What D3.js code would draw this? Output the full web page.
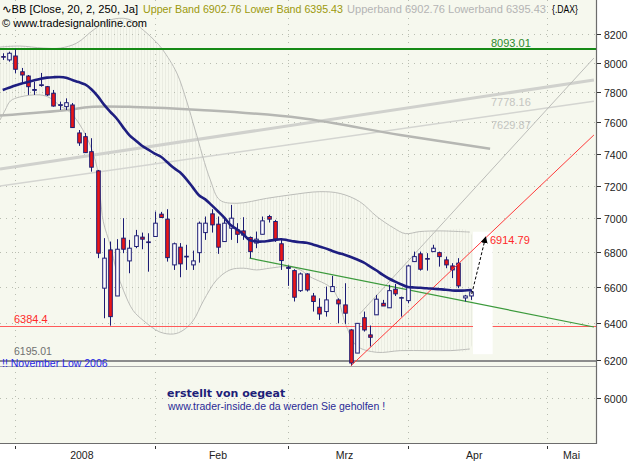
<!DOCTYPE html>
<html><head><meta charset="utf-8">
<script src="https://cdn.jsdelivr.net/npm/d3@7"></script>
<style>html,body{margin:0;padding:0;background:#fff;}svg{display:block}</style>
</head><body>
<svg id="c" width="638" height="463"></svg>
<script>
// ---------- DATA ----------
const dates = ["2007-12-27","2007-12-28","2008-01-02","2008-01-03","2008-01-04","2008-01-07","2008-01-08","2008-01-09","2008-01-10","2008-01-11",
"2008-01-14","2008-01-15","2008-01-16","2008-01-17","2008-01-18","2008-01-21","2008-01-22","2008-01-23","2008-01-24","2008-01-25",
"2008-01-28","2008-01-29","2008-01-30","2008-01-31","2008-02-01","2008-02-04","2008-02-05","2008-02-06","2008-02-07","2008-02-08",
"2008-02-11","2008-02-12","2008-02-13","2008-02-14","2008-02-15","2008-02-18","2008-02-19","2008-02-20","2008-02-21","2008-02-22",
"2008-02-25","2008-02-26","2008-02-27","2008-02-28","2008-02-29","2008-03-03","2008-03-04","2008-03-05","2008-03-06","2008-03-07",
"2008-03-10","2008-03-11","2008-03-12","2008-03-13","2008-03-14","2008-03-17","2008-03-18","2008-03-19","2008-03-20","2008-03-25",
"2008-03-26","2008-03-27","2008-03-28","2008-03-31","2008-04-01","2008-04-02","2008-04-03","2008-04-04","2008-04-07","2008-04-08",
"2008-04-09","2008-04-10","2008-04-11","2008-04-14","2008-04-15"];
const openV  = [8042,8019,8046,7938,7909,7812,7845,7837,7793,7712,7704,7715,7532,7508,7412,7291,6593,6813,6549,6882,
6749,6833,6888,6860,6892,7025,6995,6726,6829,6772,6726,6797,6915,7027,6965,6862,6941,6931,6925,6886,
6853,6905,7011,6981,6849,6712,6693,6579,6674,6549,6486,6462,6574,6527,6499,6361,6236,6428,6334,6444,
6508,6483,6587,6537,6523,6745,6790,6763,6803,6797,6755,6720,6736,6538,6549];
const highV  = [8065,8076,8093,7964,7916,7871,7930,7842,7815,7737,7759,7728,7551,7532,7498,7297,6882,6862,6876,7001,
6872,6931,6915,6911,7041,7039,7055,6856,6853,6843,6809,6981,7011,7055,7011,7001,7081,6971,7007,6892,
6921,7011,7021,6991,6882,6722,6701,6682,6678,6566,6536,6602,6663,6536,6621,6365,6397,6462,6385,6555,
6527,6612,6617,6545,6726,6803,6803,6794,6843,6803,6774,6736,6765,6555,6587];
const lowV   = [8019,8007,7927,7862,7782,7782,7837,7775,7704,7682,7682,7565,7449,7404,7286,6765,6425,6384.4,6549,6794,
6678,6823,6817,6687,6892,7003,6745,6697,6655,6697,6697,6739,6872,6915,6790,6862,6872,6853,6872,6765,
6823,6905,6975,6860,6697,6606,6518,6572,6574,6462,6416,6434,6574,6397,6394,6167.8,6236,6352,6271,6444,
6493,6483,6549,6434,6508,6745,6693,6693,6803,6716,6707,6650,6593,6518,6527];
const closeV = [8040,8065,7955,7916,7837,7818,7850,7782,7708,7717,7730,7567,7468,7406,7314,6794,6765,6434,6817,6817,
6823,6896,6876,6856,6971,7005,6768,6849,6732,6776,6749,6971,6971,6961,6829,6971,7001,6905,6900,6803,
6876,6985,6995,6876,6751,6706,6542,6674,6583,6518,6449,6527,6602,6505,6453,6183,6397,6361,6321,6531,
6493,6579,6561,6540,6720,6774,6701,6759,6823,6774,6726,6697,6606,6549,6572];
// moving average (navy line), one value per bar
const maV = [7815,7830,7845,7858,7869,7880,7891,7898,7901,7902,7897,7882,7868,7852,7820,7774,7717,7670,7626,7570,
7518,7484,7450,7425,7400,7380,7345,7310,7282,7240,7190,7140,7115,7080,7043,7005,6960,6935,6905,6870,
6863,6862,6866,6872,6876,6870,6863,6858,6855,6845,6833,6822,6808,6795,6785,6772,6757,6740,6718,6695,
6670,6648,6630,6614,6600,6597,6595,6593,6590,6587,6584,6580,6579,6580,6583];
// Bollinger bands, read at [bar position, price]
const upperBand = [[-0.43,8108],[2.7,8115],[6.4,8101],[9.1,8101],[11.7,8136],[14.3,8227],[16.9,8298],[19.8,8305],[22.2,8227],
[24.4,8136],[25.3,8088],[27.5,7930],[29.1,7735],[30.4,7551],[32.8,7234],[34.3,7111],[37,7091],[41.7,7121],[45.4,7142],
[50.1,7162],[53.3,7151],[56.4,7101],[59.1,7011],[61.7,6944],[63.6,6909],[65.9,6921],[69.1,6925],[73.8,6918]];
const lowerBand = [[-0.43,7616],[0.4,7682],[1.2,7741],[2.7,7768],[5.9,7782],[7.5,7761],[9.1,7708],[10.6,7669],[12.2,7584],
[13.8,7455],[14.9,7311],[15.4,7135],[15.9,6979],[17,6839],[18,6690],[19.1,6578],[20.6,6468],[22.2,6413],[24.8,6350],
[27,6339],[28.5,6359],[30.1,6413],[31.7,6521],[33.8,6640],[35.9,6697],[38,6707],[40.1,6697],[42.2,6707],[44.9,6716],
[47,6697],[48.5,6659],[52.2,6583],[54.3,6380],[55.9,6275],[59.1,6240],[62.8,6249],[67,6249],[70.7,6249],[73.8,6258]];
// long-term average (thick gray)
const longMA = [[-0.43,7645],[10.2,7682],[13.8,7702],[20.6,7702],[31.2,7682],[47,7629],[62.8,7519],[77,7430]];
// trend / level lines: [x1,p1,x2,p2]
const grayLineA = [-0.43,7303,93.4,7882];   // 7778.16
const grayLineB = [-0.43,7197,93.4,7740];   // 7629.87
const channelLine = [56.4,6449,93.4,8032];
const redTrend = [55,6167.8,93.4,7519];
const greenTrend = [39,6765,93.4,6377];
const levels = {resistance:8093.01, support:6384.4, novLow:6195.01, marchLow:6167.8};
const target = 6914.79;
const priceTicks = [6000,6200,6400,6600,6800,7000,7200,7400,7600,7800,8000,8200];
const monthTickIdx = [2,24,45,64,86];
const monthLabels = ["2008","Feb","Mrz","Apr","Mai"];

// ---------- SCALES ----------
const W = 596, H = 443;
const x = d3.scaleLinear().domain([-0.43, 93.73]).range([0, W]);
const y = d3.scaleLog().domain([5773, 8442]).range([H, 0]);

const svg = d3.select("#c");
svg.append("rect").attr("width",638).attr("height",463).attr("fill","#fff");
const defs = svg.append("defs");
defs.append("clipPath").attr("id","clip").append("rect").attr("width",W).attr("height",H);
const pat = defs.append("pattern").attr("id","hatch").attr("patternUnits","userSpaceOnUse")
  .attr("width",3).attr("height",10);
pat.append("rect").attr("x",0).attr("width",1).attr("height",10).attr("fill","#eaece2");

svg.append("rect").attr("width",W).attr("height",H).attr("fill","#f6f8ee");
const g = svg.append("g").attr("clip-path","url(#clip)");

// band fill
const lineC = d3.line().x(d=>x(d[0])).y(d=>y(d[1])).curve(d3.curveCatmullRom);
const bandPoly = upperBand.concat(lowerBand.slice().reverse());
g.append("path").attr("d", d3.line().x(d=>x(d[0])).y(d=>y(d[1])).curve(d3.curveCatmullRomClosed)(bandPoly))
  .attr("fill","url(#hatch)");

// grid
g.selectAll(".hg").data(priceTicks).join("line").attr("x1",0).attr("x2",W)
  .attr("y1",d=>Math.round(y(d))+0.5).attr("y2",d=>Math.round(y(d))+0.5)
  .attr("stroke","#b9bdb1").attr("stroke-dasharray","1,5");
g.selectAll(".vg").data(monthTickIdx).join("line").attr("y1",0).attr("y2",H)
  .attr("x1",d=>Math.round(x(d))+0.5).attr("x2",d=>Math.round(x(d))+0.5)
  .attr("stroke","#b9bdb1").attr("stroke-dasharray","1,5");

// gray lines
function seg(a){return [[a[0],a[1]],[a[2],a[3]]];}
const lineS = d3.line().x(d=>x(d[0])).y(d=>y(d[1]));
g.append("path").attr("d",lineS(seg(grayLineA))).attr("stroke","#d0d1cd").attr("stroke-width",3).attr("fill","none");
g.append("path").attr("d",lineS(seg(grayLineB))).attr("stroke","#d4d5d1").attr("stroke-width",1.6).attr("fill","none");
g.append("path").attr("d",lineC(longMA)).attr("stroke","#b6b7b3").attr("stroke-width",2.5).attr("fill","none");
g.append("path").attr("d",lineC(upperBand)).attr("stroke","#bcbdb9").attr("stroke-width",1).attr("fill","none");
g.append("path").attr("d",lineC(lowerBand)).attr("stroke","#bcbdb9").attr("stroke-width",1).attr("fill","none");
g.append("path").attr("d",lineS(seg(channelLine))).attr("stroke","#bcbdb9").attr("stroke-width",1).attr("fill","none");

// horizontal levels
function hline(v,col,w){const yy = w%2===1 ? Math.round(y(v))+0.5 : Math.round(y(v));
  g.append("line").attr("x1",0).attr("x2",W).attr("y1",yy).attr("y2",yy)
  .attr("stroke",col).attr("stroke-width",w);}
hline(levels.resistance,"#168a16",2);
hline(levels.support,"#ff5a5a",1);
hline(levels.novLow,"#8c8c8c",2);
hline(levels.marchLow,"#a8a8a8",1);

// white patch
g.append("rect").attr("x",x(74.3)).attr("y",y(6920)).attr("width",x(77.4)-x(74.3)).attr("height",y(6230)-y(6920)).attr("fill","#fff");

// trend lines
g.append("path").attr("d",lineS(seg(greenTrend))).attr("stroke","#3c9a3c").attr("stroke-width",1.2).attr("fill","none");

// candles
const candleCol = "#1c1c74";
const bw = 3.6;
const cg = g.append("g");
dates.forEach((dt,i)=>{
  const cx = Math.round(x(i))+0.5;
  cg.append("line").attr("x1",cx).attr("x2",cx).attr("y1",y(highV[i])).attr("y2",y(lowV[i]))
    .attr("stroke",candleCol).attr("stroke-width",1);
  const top = Math.min(y(openV[i]),y(closeV[i])), bot = Math.max(y(openV[i]),y(closeV[i]));
  cg.append("rect").attr("x",cx-bw/2).attr("y",top).attr("width",bw).attr("height",Math.max(bot-top,0.6))
    .attr("fill", closeV[i]>=openV[i] ? "#ffffff" : "#ee1515")
    .attr("stroke",candleCol).attr("stroke-width",1);
});

g.append("path").attr("d",lineS(seg(redTrend))).attr("stroke","#ff3b3b").attr("stroke-width",1).attr("fill","none");

// navy MA
g.append("path").attr("d",d3.line().x((d,i)=>x(i)).y(d=>y(d)).curve(d3.curveCatmullRom)(maV))
  .attr("stroke","#1e1e80").attr("stroke-width",2.6).attr("fill","none").attr("stroke-linejoin","round");

// dashed arrow
defs.append("marker").attr("id","arr").attr("viewBox","0 0 10 10").attr("refX",9).attr("refY",5)
  .attr("markerWidth",7).attr("markerHeight",7).attr("orient","auto")
  .append("path").attr("d","M0,0 L10,5 L0,10 z").attr("fill","#000");
g.append("line").attr("x1",x(74.1)).attr("y1",y(6560)).attr("x2",x(76.3)).attr("y2",y(6890))
  .attr("stroke","#000").attr("stroke-width",1).attr("stroke-dasharray","3,2").attr("marker-end","url(#arr)");

// level labels
const F = "'Liberation Sans', Arial, sans-serif";
function lbl(t,xx,yy,col,size,len){const e=svg.append("text").attr("x",xx).attr("y",yy).text(t)
  .attr("font-family",F).attr("font-size",size||11).attr("fill",col);
  if(len) e.attr("textLength",len).attr("lengthAdjust","spacingAndGlyphs");}
lbl(d3.format(".2f")(levels.resistance), 491, 47, "#2c8a2c");
lbl("7778.16", 491, 106, "#c4c5c1");
lbl("7629.87", 491, 129, "#c4c5c1");
lbl(d3.format(".2f")(target), 490, 244, "#ff2a2a");
lbl("6384.4", 14, 323, "#ff2a2a");
lbl(d3.format(".2f")(levels.novLow), 14, 355, "#707070", 10.5);
lbl("!! November Low 2006", 2, 367, "#2424e6", 10.5);

// header
lbl("\u223FBB [Close, 20, 2, 250, Ja]", 2, 13, "#000", 10.5, 136);
lbl("Upper Band 6902.76 Lower Band 6395.43", 143, 13, "#9c980c", 10.5, 200);
lbl("Upperband 6902.76 Lowerband 6395.43", 347, 13, "#b4b4b4", 10.5, 199);
lbl("{.DAX}", 552, 13, "#000", 10.5, 26);
lbl("\u00A9 www.tradesignalonline.com", 2, 27, "#000", 10.5, 145);

// annotation texts
svg.append("text").attr("x",167).attr("y",397).text("erstellt von oegeat")
  .attr("font-family","'DejaVu Sans', Verdana, sans-serif").attr("font-weight","bold").attr("font-size",11).attr("fill","#1e1e78");
lbl("www.trader-inside.de da werden Sie geholfen !", 168, 410, "#2a2a96", 10.5);

// frame
svg.append("line").attr("x1",W+0.5).attr("x2",W+0.5).attr("y1",0).attr("y2",H+1).attr("stroke","#6c6c6c").attr("stroke-width",1.2);
svg.append("line").attr("x1",0).attr("x2",W+1).attr("y1",H+0.5).attr("y2",H+0.5).attr("stroke","#6c6c6c").attr("stroke-width",1.2);

// right axis
const ax = svg.append("g");
priceTicks.forEach(v=>{
  const yy = Math.round(y(v))+0.5;
  ax.append("line").attr("x1",W+1).attr("x2",W+5).attr("y1",yy).attr("y2",yy).attr("stroke","#333");
  ax.append("text").attr("x",604).attr("y",yy+4).text(v).attr("font-family",F).attr("font-size",10.5).attr("fill","#222");
});
// bottom axis
monthTickIdx.forEach((m,k)=>{
  const xx = Math.round(x(m))+0.5;
  ax.append("line").attr("x1",xx).attr("x2",xx).attr("y1",H+3).attr("y2",H+6).attr("stroke","#333");
  const next = k<monthTickIdx.length-1 ? monthTickIdx[k+1]-1 : x.domain()[1];
  const mid = (m+next)/2;
  ax.append("text").attr("x",x(mid)).attr("y",H+16).attr("text-anchor","middle").text(monthLabels[k])
    .attr("font-family",F).attr("font-size",10.5).attr("fill","#222");
});
</script>
</body></html>
